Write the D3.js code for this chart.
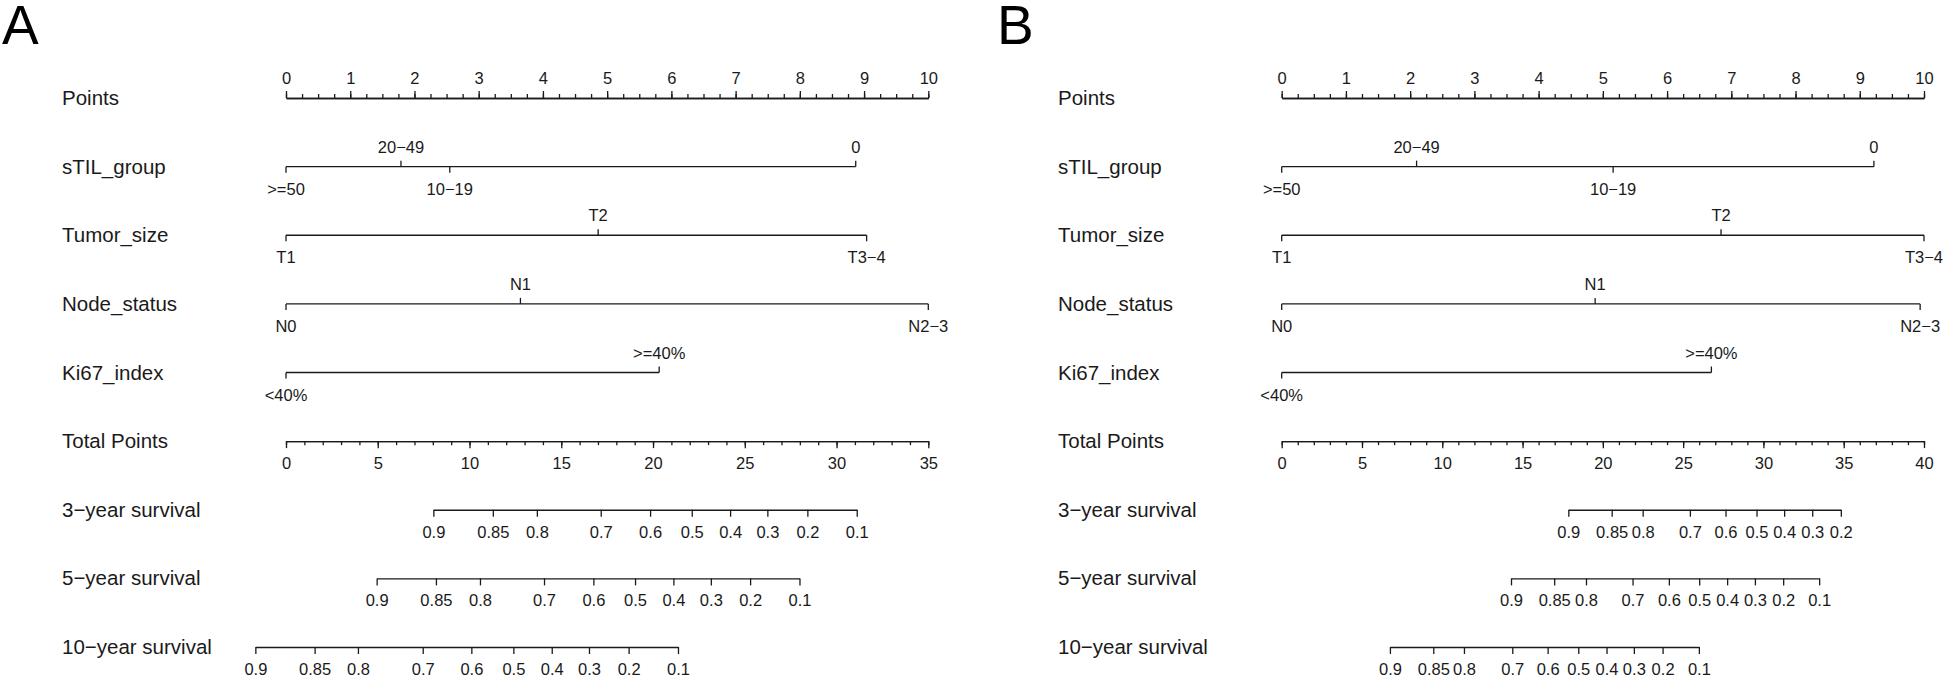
<!DOCTYPE html>
<html>
<head>
<meta charset="utf-8">
<script src="https://cdn.jsdelivr.net/npm/d3@7"></script>
<style>
  html, body { margin: 0; padding: 0; background: #fff; }
  svg { display: block; }
</style>
</head>
<body>
<svg id="chart" width="1946" height="677"></svg>
<script>
// ---------- DATA ----------
const rowNames = ["Points", "sTIL_group", "Tumor_size", "Node_status", "Ki67_index",
  "Total Points", "3−year survival", "5−year survival", "10−year survival"];
const pointTicks = [0, 1, 2, 3, 4, 5, 6, 7, 8, 9, 10];

const levelsSTIL = [">=50", "20−49", "10−19", "0"];
const levelsTumor = ["T1", "T2", "T3−4"];
const levelsNode = ["N0", "N1", "N2−3"];
const levelsKi67 = ["<40%", ">=40%"];

// Panel A points per level
const ptsA_STIL = [0, 1.79, 2.55, 8.87];
const ptsA_Tumor = [0, 4.86, 9.04];
const ptsA_Node = [0, 3.65, 10];
const ptsA_Ki67 = [0, 5.81];
// Panel B points per level
const ptsB_STIL = [0, 2.10, 5.16, 9.22];
const ptsB_Tumor = [0, 6.84, 10];
const ptsB_Node = [0, 4.88, 9.94];
const ptsB_Ki67 = [0, 6.69];

const totalTicksA = [0, 5, 10, 15, 20, 25, 30, 35];
const totalTicksB = [0, 5, 10, 15, 20, 25, 30, 35, 40];

const survProbs10 = [0.9, 0.85, 0.8, 0.7, 0.6, 0.5, 0.4, 0.3, 0.2, 0.1];
const survProbs9 = [0.9, 0.85, 0.8, 0.7, 0.6, 0.5, 0.4, 0.3, 0.2];
// total points corresponding to each survival probability
const survA3 = [8.03, 11.27, 13.67, 17.15, 19.84, 22.11, 24.20, 26.23, 28.41, 31.10];
const survA5 = [4.94, 8.17, 10.57, 14.06, 16.75, 19.02, 21.11, 23.15, 25.29, 27.98];
const survA10 = [-1.67, 1.56, 3.92, 7.45, 10.10, 12.39, 14.48, 16.51, 18.67, 21.36];
const survB3 = [17.85, 20.55, 22.48, 25.42, 27.64, 29.57, 31.29, 33.04, 34.82];
const survB5 = [14.28, 16.97, 18.95, 21.85, 24.11, 26.00, 27.74, 29.47, 31.23, 33.47];
const survB10 = [6.74, 9.44, 11.35, 14.36, 16.56, 18.47, 20.23, 21.93, 23.72, 25.98];

// ---------- DRAW ----------
const FONT = "'Liberation Sans', Arial, Helvetica, sans-serif";
const INK = "#1a1a1a";
const svg = d3.select("#chart");

const rowY = d3.scaleLinear().domain([0, 8]).range([98, 647]);

function panel(cfg) {
  const g = svg.append("g");
  g.append("text").attr("x", cfg.letterX).attr("y", 44)
    .attr("font-family", FONT).attr("font-size", 55).attr("fill", "#000").text(cfg.letter);

  rowNames.forEach((n, i) => {
    g.append("text").attr("x", cfg.labelX).attr("y", rowY(i) + 7)
      .attr("font-family", FONT).attr("font-size", 20.5).attr("fill", INK).text(n);
  });

  const xP = d3.scaleLinear().domain([0, 10]).range([cfg.x0, cfg.x1]);
  const xT = d3.scaleLinear().domain([0, cfg.totalMax]).range([cfg.x0, cfg.x1]);

  function styleAxis(sel) {
    sel.selectAll("path").attr("stroke", INK).attr("stroke-width", 1.3);
    sel.selectAll("line").attr("stroke", INK).attr("stroke-width", 1.3);
    sel.selectAll("text").attr("font-family", FONT).attr("font-size", 16.5).attr("fill", INK);
    sel.attr("font-family", null).attr("font-size", null);
  }

  // Points axis (ticks/labels above), minor ticks every 0.25
  const minorP = d3.range(0, 10.001, 0.25);
  const gpMinor = g.append("g").attr("transform", `translate(0,${rowY(0)})`)
    .call(d3.axisTop(xP).tickValues(minorP).tickSize(4).tickSizeOuter(0).tickFormat(""));
  styleAxis(gpMinor);
  const gp = g.append("g").attr("transform", `translate(0,${rowY(0)})`)
    .call(d3.axisTop(xP).tickValues(pointTicks).tickSize(7).tickSizeOuter(0).tickFormat(d3.format("d")));
  styleAxis(gp);
  gp.selectAll(".tick text").attr("y", -14).attr("dy", 0);

  // Categorical predictors
  const cats = [
    [levelsSTIL, cfg.sTIL], [levelsTumor, cfg.tumor], [levelsNode, cfg.node], [levelsKi67, cfg.ki67]
  ];
  cats.forEach(([levels, pts], k) => {
    const y = rowY(k + 1);
    const items = levels.map((l, j) => ({ l, p: pts[j] })).sort((a, b) => a.p - b.p);
    const ext = d3.extent(items, d => d.p);
    g.append("line").attr("x1", xP(ext[0])).attr("x2", xP(ext[1]))
      .attr("y1", y).attr("y2", y).attr("stroke", INK).attr("stroke-width", 1.3);
    items.forEach((d, j) => {
      const above = j % 2 === 1;
      g.append("line").attr("x1", xP(d.p)).attr("x2", xP(d.p))
        .attr("y1", y).attr("y2", above ? y - 6 : y + 6)
        .attr("stroke", INK).attr("stroke-width", 1.3);
      g.append("text").attr("x", xP(d.p)).attr("y", above ? y - 14 : y + 28)
        .attr("text-anchor", "middle").attr("font-family", FONT).attr("font-size", 16.5)
        .attr("fill", INK).text(d.l);
    });
  });

  // Total Points axis (ticks/labels below)
  const gtMinor = g.append("g").attr("transform", `translate(0,${rowY(5)})`)
    .call(d3.axisBottom(xT).tickValues(d3.range(0, cfg.totalMax + 1)).tickSize(4).tickSizeOuter(0).tickFormat(""));
  styleAxis(gtMinor);
  const gt = g.append("g").attr("transform", `translate(0,${rowY(5)})`)
    .call(d3.axisBottom(xT).tickValues(cfg.totalTicks).tickSize(7).tickSizeOuter(0).tickFormat(d3.format("d")));
  styleAxis(gt);
  gt.selectAll(".tick text").attr("y", 28).attr("dy", 0);

  // Survival axes
  cfg.surv.forEach(([probs, pts], k) => {
    const xs = d3.scaleLinear().domain(probs).range(pts.map(xT));
    const ga = g.append("g").attr("transform", `translate(0,${rowY(6 + k)})`)
      .call(d3.axisBottom(xs).tickValues(probs).tickSize(7).tickSizeOuter(0).tickFormat(d => String(d)));
    styleAxis(ga);
    ga.selectAll(".tick text").attr("y", 28).attr("dy", 0);
  });
}

panel({
  letter: "A", letterX: 2, labelX: 62, x0: 286, x1: 928.3, totalMax: 35,
  totalTicks: totalTicksA,
  sTIL: ptsA_STIL, tumor: ptsA_Tumor, node: ptsA_Node, ki67: ptsA_Ki67,
  surv: [[survProbs10, survA3], [survProbs10, survA5], [survProbs10, survA10]]
});
panel({
  letter: "B", letterX: 997, labelX: 1058, x0: 1281.7, x1: 1924, totalMax: 40,
  totalTicks: totalTicksB,
  sTIL: ptsB_STIL, tumor: ptsB_Tumor, node: ptsB_Node, ki67: ptsB_Ki67,
  surv: [[survProbs9, survB3], [survProbs10, survB5], [survProbs10, survB10]]
});
</script>
</body>
</html>
